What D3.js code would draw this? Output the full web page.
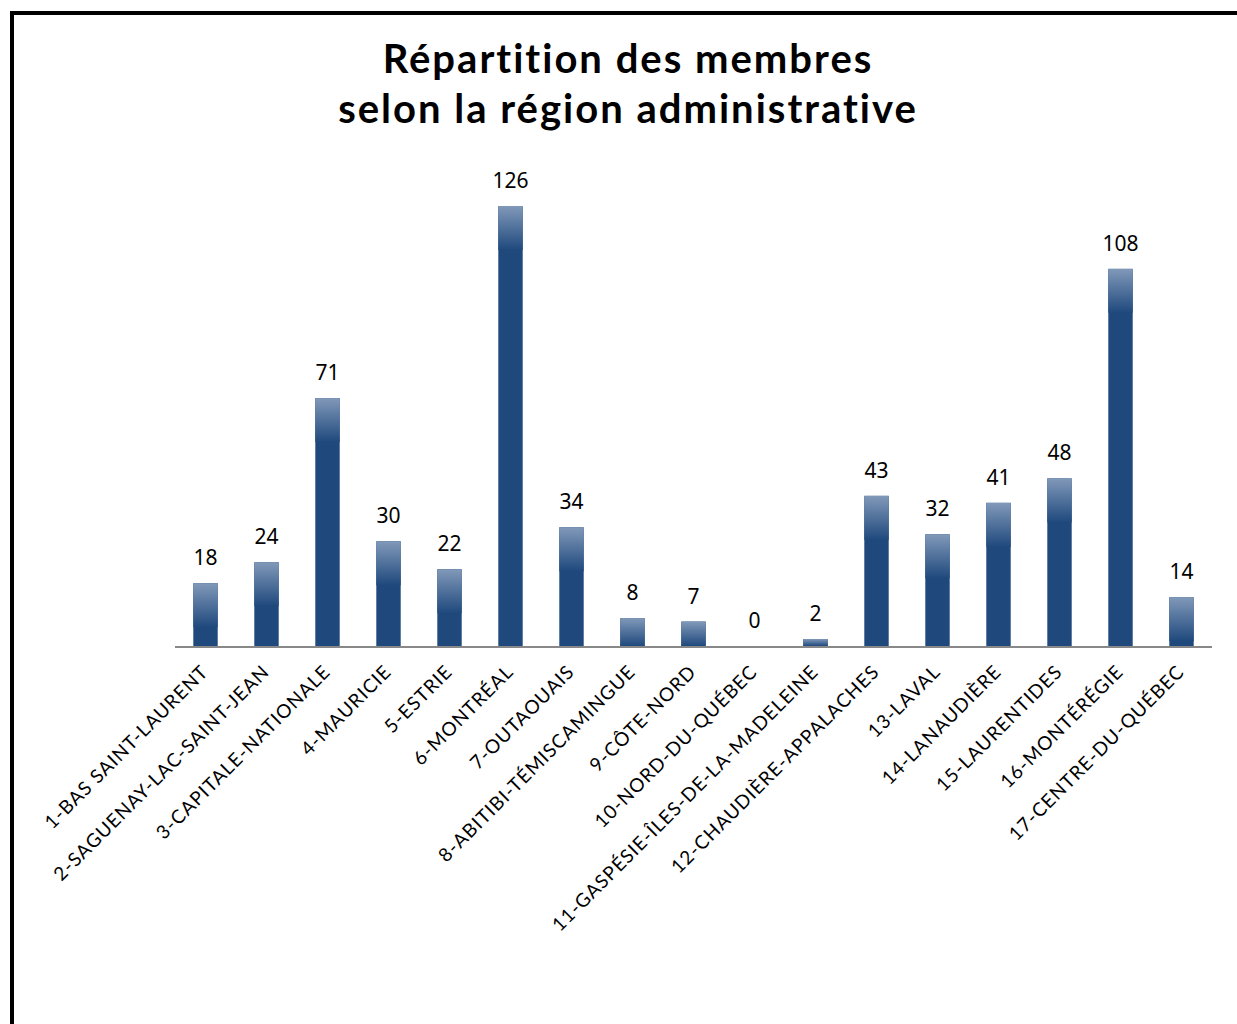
<!DOCTYPE html>
<html>
<head>
<meta charset="utf-8">
<script src="https://cdn.jsdelivr.net/npm/d3@7"></script>
<style>
  body { margin: 0; background: #fff; }
  svg { display: block; }
</style>
</head>
<body>
<div id="chart"></div>
<script>
var regions = [
  "1-BAS SAINT-LAURENT",
  "2-SAGUENAY-LAC-SAINT-JEAN",
  "3-CAPITALE-NATIONALE",
  "4-MAURICIE",
  "5-ESTRIE",
  "6-MONTRÉAL",
  "7-OUTAOUAIS",
  "8-ABITIBI-TÉMISCAMINGUE",
  "9-CÔTE-NORD",
  "10-NORD-DU-QUÉBEC",
  "11-GASPÉSIE-ÎLES-DE-LA-MADELEINE",
  "12-CHAUDIÈRE-APPALACHES",
  "13-LAVAL",
  "14-LANAUDIÈRE",
  "15-LAURENTIDES",
  "16-MONTÉRÉGIE",
  "17-CENTRE-DU-QUÉBEC"
];
var members = [18, 24, 71, 30, 22, 126, 34, 8, 7, 0, 2, 43, 32, 41, 48, 108, 14];
var titleLines = ["Répartition des membres", "selon la région administrative"];

var W = 1237, H = 1024;
var chart = { left: 175, right: 1212, base: 646 };

var svg = d3.select("#chart")
  .append("svg")
  .attr("width", W)
  .attr("height", H);

// gradient for the top of each bar
var defs = svg.append("defs");
var grad = defs.append("linearGradient")
  .attr("id", "barTop")
  .attr("x1", 0).attr("y1", 0).attr("x2", 0).attr("y2", 1);
grad.append("stop").attr("offset", "0%").attr("stop-color", "#8199b9").attr("stop-opacity", 1);
grad.append("stop").attr("offset", "100%").attr("stop-color", "#1f497d").attr("stop-opacity", 1);

// frame
svg.append("rect")
  .attr("x", 12)
  .attr("y", 13)
  .attr("width", 1400)
  .attr("height", 1200)
  .attr("fill", "none")
  .attr("stroke", "#000")
  .attr("stroke-width", 4);

// title
svg.append("text")
  .attr("x", 628)
  .attr("y", 73)
  .attr("text-anchor", "middle")
  .style("font-family", "Lato, 'DejaVu Sans', sans-serif")
  .style("font-weight", "bold")
  .style("font-size", "40px")
  .style("letter-spacing", "2px")
  .selectAll("tspan")
  .data(titleLines)
  .enter()
  .append("tspan")
  .attr("x", 628)
  .attr("dy", function(d, i) { return i == 0 ? 0 : 50; })
  .text(function(d) { return d; });

var x = d3.scaleBand()
  .domain(regions)
  .range([chart.left, chart.right])
  .paddingInner(0.6)
  .paddingOuter(0.3);

var y = d3.scaleLinear()
  .domain([0, 126])
  .range([chart.base, 206]);

var data = regions.map(function(r, i) { return { region: r, value: members[i] }; });

var bars = svg.append("g").attr("class", "bars");

bars.selectAll("rect.solid")
  .data(data)
  .enter()
  .append("rect")
  .attr("class", "solid")
  .attr("x", function(d) { return x(d.region); })
  .attr("y", function(d) { return y(d.value); })
  .attr("width", x.bandwidth())
  .attr("height", function(d) { return chart.base - y(d.value); })
  .attr("fill", "#1f497d");

bars.selectAll("rect.shine")
  .data(data.filter(function(d) { return d.value > 0; }))
  .enter()
  .append("rect")
  .attr("class", "shine")
  .attr("x", function(d) { return x(d.region); })
  .attr("y", function(d) { return y(d.value); })
  .attr("width", x.bandwidth())
  .attr("height", function(d) { return Math.min(44, chart.base - y(d.value)); })
  .attr("fill", "url(#barTop)");

// baseline
svg.append("line")
  .attr("x1", chart.left)
  .attr("x2", chart.right)
  .attr("y1", chart.base + 1)
  .attr("y2", chart.base + 1)
  .attr("stroke", "#888")
  .attr("stroke-width", 2);

// value labels
svg.append("g")
  .selectAll("text")
  .data(data)
  .enter()
  .append("text")
  .attr("x", function(d) { return x(d.region) + x.bandwidth() / 2; })
  .attr("y", function(d) { return y(d.value) - 18; })
  .attr("text-anchor", "middle")
  .style("font-family", "'Noto Sans', 'Open Sans', sans-serif")
  .style("font-size", "21px")
  .attr("fill", "#000")
  .text(function(d) { return d.value; });

// category labels
svg.append("g")
  .selectAll("text")
  .data(regions)
  .enter()
  .append("text")
  .attr("transform", function(d) {
    var cx = x(d) + x.bandwidth() / 2 + 4;
    return "translate(" + cx + "," + 673 + ") rotate(-45)";
  })
  .attr("text-anchor", "end")
  .style("font-family", "Lato, 'Open Sans', sans-serif")
  .style("font-size", "19px")
  .style("letter-spacing", "1px")
  .attr("fill", "#000")
  .text(function(d) { return d; });
</script>
</body>
</html>
